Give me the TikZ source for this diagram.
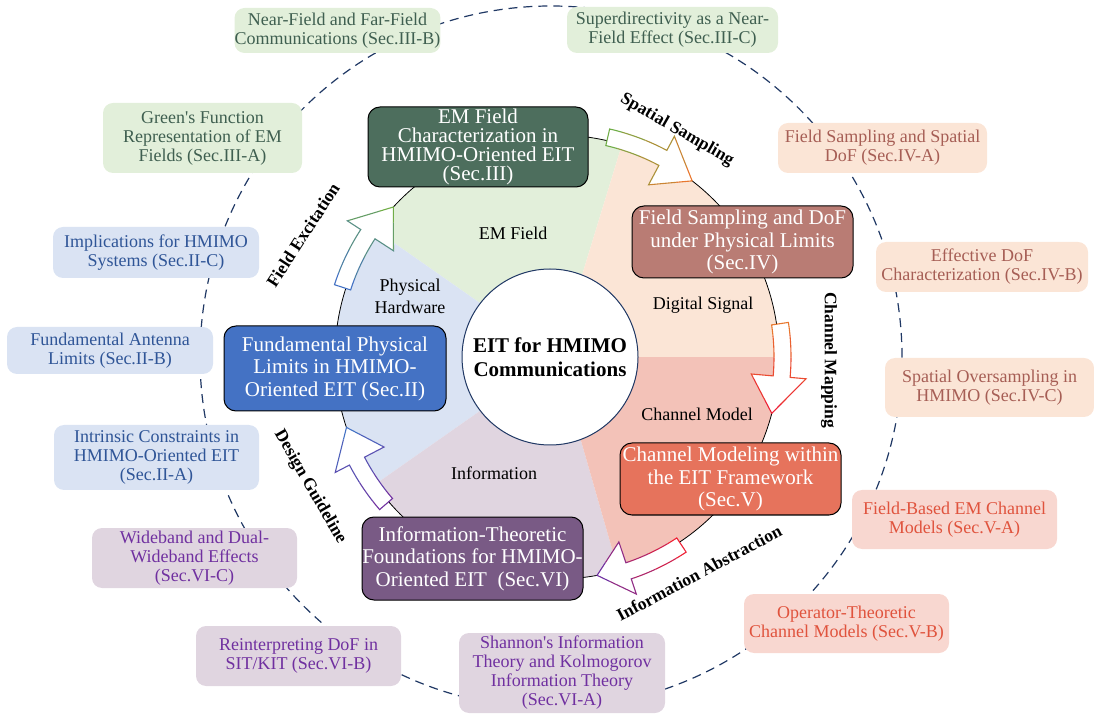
\documentclass[tikz,border=0pt]{standalone}
\usepackage{fontspec}
\setmainfont{Liberation Serif}

% curved hollow arrow on the ring: start angle, head angle, tip angle, colour at start, colour at tip
\newcommand{\flowarrow}[5]{%
  \begin{scope}[shift={(557,358)}]
    \fill[white] (#1:217) -- (#1:234) arc[start angle=#1,end angle=#2,radius=234]
      -- (#2:250) -- (#3:222) -- (#2:195) -- (#2:217)
      arc[start angle=#2,end angle=#1,radius=217] -- cycle;
    \foreach \k in {0,...,4}{
      \pgfmathsetmacro{\ahi}{(#1)+3-\k*((#1)-(#3)+6)/5}
      \pgfmathsetmacro{\alo}{\ahi-((#1)-(#3)+6)/5}
      \pgfmathtruncatemacro{\mix}{\k*25}
      \colorlet{arrowcol}{#5!\mix!#4}
      \begin{scope}
        \clip (0,0) -- (\ahi:320) arc[start angle=\ahi,end angle=\alo,radius=320] -- cycle;
        \draw[arrowcol,line width=1.1pt] (#1:217) -- (#1:234) arc[start angle=#1,end angle=#2,radius=234]
          -- (#2:250) -- (#3:222) -- (#2:195) -- (#2:217)
          arc[start angle=#2,end angle=#1,radius=217] -- cycle;
      \end{scope}
    }
  \end{scope}}

\begin{document}
\begin{tikzpicture}[x=1pt,y=1pt,
    mainbox/.style={draw=black,line width=1pt,rounded corners=12pt,text=white,align=center,
      inner sep=0pt,font=\fontsize{21}{22.5}\selectfont},
    subbox/.style={rounded corners=10pt,align=center,inner sep=0pt,font=\fontsize{18}{19}\selectfont},
    sectorlabel/.style={align=center,font=\fontsize{18}{22}\selectfont},
    flowlabel/.style={font=\bfseries\fontsize{17.5}{18}\selectfont}]
  \definecolor{navy}{HTML}{203864}
  \definecolor{fieldgreen}{HTML}{E2EFDA}
  \definecolor{signalpeach}{HTML}{FBE5D6}
  \definecolor{channelpink}{HTML}{F3C2B8}
  \definecolor{infopurple}{HTML}{E0D5E0}
  \definecolor{hwblue}{HTML}{DAE3F3}
  \definecolor{subpink}{HTML}{F8D7D0}
  \definecolor{secII}{HTML}{4472C4}
  \definecolor{secIII}{HTML}{4D6E5D}
  \definecolor{secIV}{HTML}{B97C74}
  \definecolor{secV}{HTML}{E6735C}
  \definecolor{secVI}{HTML}{795A85}
  \definecolor{txtgreen}{HTML}{3F5F50}
  \definecolor{txtbrown}{HTML}{A65E55}
  \definecolor{txtred}{HTML}{E0533D}
  \definecolor{txtpurple}{HTML}{7030A0}
  \definecolor{txtblue}{HTML}{2F5597}
  \definecolor{arrblue}{HTML}{4472C4}
  \definecolor{arrgreen}{HTML}{70AD47}
  \definecolor{arrorange}{HTML}{E8772E}
  \definecolor{arrred}{HTML}{EE2035}
  \definecolor{arrpurple}{HTML}{7030A0}

  \useasboundingbox (0,0) rectangle (1094,715);

  % outer ring
  \draw[navy,line width=1.2pt,dash pattern=on 9pt off 6pt] (551,358) circle[radius=351];

  % sectors
  \begin{scope}[shift={(557,358)}]
    \fill[fieldgreen] (0,0) -- (73:222) arc[start angle=73,end angle=145,radius=222] -- cycle;
    \fill[hwblue] (0,0) -- (145:222) arc[start angle=145,end angle=215,radius=222] -- cycle;
    \fill[infopurple] (0,0) -- (215:222) arc[start angle=215,end angle=286,radius=222] -- cycle;
    \fill[channelpink] (0,0) -- (286:222) arc[start angle=286,end angle=360,radius=222] -- cycle;
    \fill[signalpeach] (0,0) -- (0:222) arc[start angle=0,end angle=73,radius=222] -- cycle;
    \draw[line width=0.8pt] (0,0) circle[radius=222];
  \end{scope}

  % sector labels
  \node[sectorlabel] (lfield) at (513,482) {EM Field};
  \node[sectorlabel] (lhw) at (410,419) {Physical\\Hardware};
  \node[sectorlabel] (lsignal) at (703,410) {Digital Signal};
  \node[sectorlabel] (lchannel) at (697,301) {Channel Model};
  \node[sectorlabel] (linfo) at (494,242) {Information};

  % centre
  \node[circle,draw=navy,line width=1pt,fill=white,minimum size=176pt,align=center,
    font=\bfseries\fontsize{21}{24}\selectfont] (eit) at (550,358) {EIT for HMIMO\\Communications};

  % arrows
  \flowarrow{162}{147}{137.5}{arrblue}{arrgreen}
  \flowarrow{77}{62}{52.5}{arrgreen}{arrorange}
  \flowarrow{8.5}{-5}{-14.7}{arrorange}{arrred}
  \flowarrow{-56.5}{-71.5}{-79.6}{arrred}{arrpurple}
  \flowarrow{220.7}{207.5}{198.5}{arrpurple}{arrblue}

  \node[flowlabel,rotate=57] (excite) at (303,480) {Field Excitation};
  \node[flowlabel,rotate=-30] (sampling) at (677,585) {Spatial Sampling};
  \node[flowlabel,rotate=-90] (mapping) at (829,355) {Channel Mapping};
  \node[flowlabel,rotate=28] (abstract) at (699,142) {Information Abstraction};
  \node[flowlabel,rotate=-60] (guide) at (310,228) {Design Guideline};

  % sections
  \node[mainbox,fill=secIII,minimum width=220pt,minimum height=80pt,
    font=\fontsize{21}{19}\selectfont] (sIII) at (478,568)
    {EM Field\\Characterization in\\HMIMO-Oriented EIT\\(Sec.III)};
  \node[mainbox,fill=secIV,minimum width=221pt,minimum height=72pt] (sIV) at (742.5,473)
    {Field Sampling and DoF\\under Physical Limits\\(Sec.IV)};
  \node[mainbox,fill=secV,minimum width=221pt,minimum height=72pt] (sV) at (730.5,236)
    {Channel Modeling within\\the EIT Framework\\(Sec.V)};
  \node[mainbox,fill=secVI,minimum width=221pt,minimum height=83pt] (sVI) at (472.5,156.5)
    {Information-Theoretic\\Foundations for HMIMO-\\Oriented EIT~ (Sec.VI)};
  \node[mainbox,fill=secII,minimum width=222pt,minimum height=85pt] (sII) at (335,346.5)
    {Fundamental Physical\\Limits in HMIMO-\\Oriented EIT (Sec.II)};

  % subsections III
  \node[subbox,fill=fieldgreen,text=txtgreen,minimum width=197pt,minimum height=45pt] (sIIIb) at (337.5,684.5)
    {Near-Field and Far-Field\\Communications (Sec.III-B)};
  \node[subbox,fill=fieldgreen,text=txtgreen,minimum width=211pt,minimum height=46pt] (sIIIc) at (672.5,685)
    {Superdirectivity as a Near-\\Field Effect (Sec.III-C)};
  \node[subbox,fill=fieldgreen,text=txtgreen,minimum width=199pt,minimum height=70pt] (sIIIa) at (202.5,577)
    {Green\textquotesingle s Function\\Representation of EM\\Fields (Sec.III-A)};
  % subsections IV
  \node[subbox,fill=signalpeach,text=txtbrown,minimum width=209pt,minimum height=50pt] (sIVa) at (882.5,567)
    {Field Sampling and Spatial\\DoF (Sec.IV-A)};
  \node[subbox,fill=signalpeach,text=txtbrown,minimum width=212pt,minimum height=50pt] (sIVb) at (982,448)
    {Effective DoF\\Characterization (Sec.IV-B)};
  \node[subbox,fill=signalpeach,text=txtbrown,minimum width=209pt,minimum height=59pt] (sIVc) at (989.5,327.5)
    {Spatial Oversampling in\\HMIMO (Sec.IV-C)};
  % subsections V
  \node[subbox,fill=subpink,text=txtred,minimum width=205pt,minimum height=59pt] (sVa) at (954.5,195.5)
    {Field-Based EM Channel\\Models (Sec.V-A)};
  \node[subbox,fill=subpink,text=txtred,minimum width=205pt,minimum height=59pt] (sVb) at (846.5,91.5)
    {Operator-Theoretic\\Channel Models (Sec.V-B)};
  % subsections VI
  \node[subbox,fill=infopurple,text=txtpurple,minimum width=206pt,minimum height=80pt] (sVIa) at (562,42)
    {Shannon\textquotesingle s Information\\Theory and Kolmogorov\\Information Theory\\(Sec.VI-A)};
  \node[subbox,fill=infopurple,text=txtpurple,minimum width=205pt,minimum height=60pt] (sVIb) at (298.5,59)
    {Reinterpreting DoF in\\SIT/KIT (Sec.VI-B)};
  \node[subbox,fill=infopurple,text=txtpurple,minimum width=205pt,minimum height=60pt] (sVIc) at (194.5,157)
    {Wideband and Dual-\\Wideband Effects\\(Sec.VI-C)};
  % subsections II
  \node[subbox,fill=hwblue,text=txtblue,minimum width=205pt,minimum height=65pt] (sIIa) at (156.5,257.5)
    {Intrinsic Constraints in\\HMIMO-Oriented EIT\\(Sec.II-A)};
  \node[subbox,fill=hwblue,text=txtblue,minimum width=206pt,minimum height=47pt] (sIIb) at (110,364.5)
    {Fundamental Antenna\\Limits (Sec.II-B)};
  \node[subbox,fill=hwblue,text=txtblue,minimum width=206pt,minimum height=51pt] (sIIc) at (156,462.5)
    {Implications for HMIMO\\Systems (Sec.II-C)};
\end{tikzpicture}
\end{document}
